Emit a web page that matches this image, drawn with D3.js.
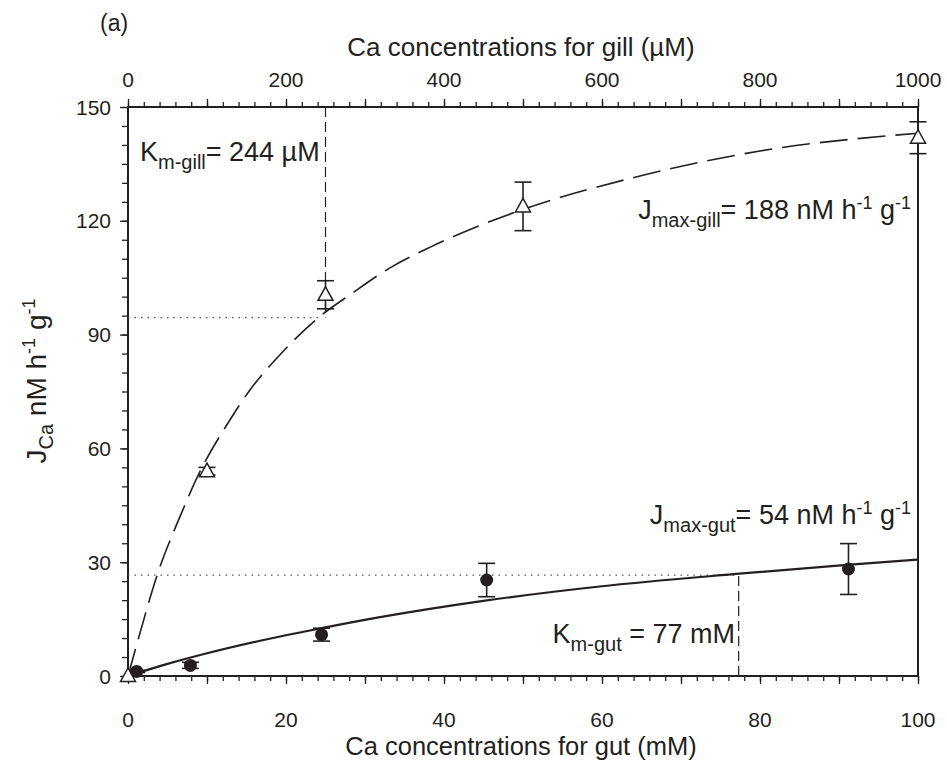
<!DOCTYPE html>
<html><head><meta charset="utf-8">
<script src="https://cdn.jsdelivr.net/npm/d3@7"></script>
<style>
body{margin:0;background:#fff}
text{font-family:"Liberation Sans",Arial,Helvetica,sans-serif;fill:#231f20}
</style>
</head><body>
<svg id="c" width="947" height="768"></svg>
<script>
// ---- data ----
const gillConc = [0, 100, 250, 500, 1000];           // µM (top axis)
const gillJ    = [0, 54, 100.5, 123.8, 141.9];
const gillErr  = [0, 1, 3.7, 6.4, 4.2];
const gutConc  = [1.1, 7.9, 24.5, 45.4, 91.2];       // mM (bottom axis)
const gutJ     = [1.2, 2.8, 10.9, 25.3, 28.2];
const gutErr   = [0.3, 0.8, 1.7, 4.4, 6.7];
const gillFitConc = [0, 8, 40.5, 65.8, 89, 129, 154.4, 192.4, 243, 281, 331.6, 382, 433, 500, 648, 800, 1000];
const gillFitJ    = [0, 6, 28.8, 42, 53, 67.5, 75.4, 84.7, 94.8, 100.5, 107.6, 113, 117.7, 123, 131.8, 138.4, 143.1];
const gutFitConc  = [0, 5, 10, 16.7, 24.5, 31.9, 45, 59.7, 77, 91, 100];
const gutFitJ     = [0, 3.2, 6.0, 9.3, 12.6, 15.5, 19.8, 23.6, 26.9, 29.3, 30.7];
const gutTicks  = [0, 20, 40, 60, 80, 100];
const gillTicks = [0, 200, 400, 600, 800, 1000];
const yTicks    = [0, 30, 60, 90, 120, 150];
const kmGill = {lineX: 250, halfJ: 94.5, dotEnd: 243};
const kmGut  = {lineX: 77.3, halfJ: 26.6};

const ink = "#231f20";
const svg = d3.select("#c");
const L = 128, R = 918, T = 107, B = 676;
const xGut  = d3.scaleLinear([0, 100], [L, R]);
const xGill = d3.scaleLinear([0, 1000], [L, R]);
const y     = d3.scaleLinear([0, 150], [B, T]);

// ---- axes ticks ----
function ticks(axis, tr) {
  const g = svg.append("g").attr("transform", tr).call(axis);
  g.select(".domain").remove();
  g.selectAll("line").attr("stroke", ink).attr("stroke-width", 1.3);
  g.selectAll("text").remove();
}
ticks(d3.axisBottom(xGut).tickValues(d3.range(0, 101, 2)).tickSize(5), `translate(0,${B})`);
ticks(d3.axisBottom(xGut).tickValues(d3.range(0, 101, 10)).tickSize(8), `translate(0,${B})`);
ticks(d3.axisTop(xGill).tickValues(d3.range(0, 1001, 20)).tickSize(5), `translate(0,${T})`);
ticks(d3.axisTop(xGill).tickValues(d3.range(0, 1001, 100)).tickSize(8), `translate(0,${T})`);
ticks(d3.axisLeft(y).tickValues(d3.range(0, 151, 5)).tickSize(6), `translate(${L},0)`);
ticks(d3.axisLeft(y).tickValues(d3.range(0, 151, 30)).tickSize(8), `translate(${L},0)`);

// frame
svg.append("rect").attr("x", L).attr("y", T).attr("width", R - L).attr("height", B - T)
  .attr("fill", "none").attr("stroke", ink).attr("stroke-width", 2);

// tick labels
svg.append("g").selectAll("text").data(gutTicks).join("text")
  .attr("x", d => xGut(d)).attr("y", 727).attr("text-anchor", "middle")
  .attr("font-size", 21).text(d => d);
svg.append("g").selectAll("text").data(gillTicks).join("text")
  .attr("x", d => xGill(d)).attr("y", 87).attr("text-anchor", "middle")
  .attr("font-size", 21).text(d => d);
svg.append("g").selectAll("text").data(yTicks).join("text")
  .attr("x", 111).attr("y", d => y(d)).attr("dy", "0.36em").attr("text-anchor", "end")
  .attr("font-size", 21).text(d => d);

// axis titles
svg.append("text").attr("x", (L + R) / 2 - 2).attr("y", 755).attr("text-anchor", "middle")
  .attr("font-size", 25.5).text("Ca concentrations for gut (mM)");
svg.append("text").attr("x", (L + R) / 2 - 2).attr("y", 56).attr("text-anchor", "middle")
  .attr("font-size", 26).text("Ca concentrations for gill (µM)");
svg.append("text").attr("x", 100).attr("y", 31).attr("font-size", 23).text("(a)");

const yt = svg.append("text").attr("transform", "translate(46,381) rotate(-90)")
  .attr("text-anchor", "middle").attr("font-size", 28);
yt.append("tspan").text("J");
yt.append("tspan").attr("font-size", 20).attr("dy", 7).text("Ca");
yt.append("tspan").attr("dy", -7).text(" nM h");
yt.append("tspan").attr("font-size", 18).attr("dy", -11).text("-1");
yt.append("tspan").attr("dy", 11).text(" g");
yt.append("tspan").attr("font-size", 18).attr("dy", -11).text("-1");

// reference (Km / Jmax/2) lines
svg.append("line").attr("x1", L).attr("x2", xGill(kmGill.dotEnd))
  .attr("y1", y(kmGill.halfJ)).attr("y2", y(kmGill.halfJ))
  .attr("stroke", "#555").attr("stroke-width", 1.2).attr("stroke-dasharray", "1.5,5");
svg.append("line").attr("x1", xGill(kmGill.lineX)).attr("x2", xGill(kmGill.lineX))
  .attr("y1", T).attr("y2", y(kmGill.halfJ))
  .attr("stroke", ink).attr("stroke-width", 1.2).attr("stroke-dasharray", "10,5");
svg.append("line").attr("x1", L).attr("x2", xGut(kmGut.lineX))
  .attr("y1", y(kmGut.halfJ)).attr("y2", y(kmGut.halfJ))
  .attr("stroke", "#555").attr("stroke-width", 1.2).attr("stroke-dasharray", "1.5,5");
svg.append("line").attr("x1", xGut(kmGut.lineX)).attr("x2", xGut(kmGut.lineX))
  .attr("y1", B).attr("y2", y(kmGut.halfJ))
  .attr("stroke", ink).attr("stroke-width", 1.2).attr("stroke-dasharray", "10,5");

// fitted curves
const gillLine = d3.line().x(d => xGill(d[0])).y(d => y(d[1])).curve(d3.curveMonotoneX);
const gutLine  = d3.line().x(d => xGut(d[0])).y(d => y(d[1])).curve(d3.curveMonotoneX);
svg.append("path").attr("d", gillLine(d3.zip(gillFitConc, gillFitJ)))
  .attr("fill", "none").attr("stroke", ink).attr("stroke-width", 1.6).attr("stroke-dasharray", "28,10");
svg.append("path").attr("d", gutLine(d3.zip(gutFitConc, gutFitJ)))
  .attr("fill", "none").attr("stroke", ink).attr("stroke-width", 2.2);

// error bars
function errBars(xs, ys, es, xs_) {
  const g = svg.append("g").attr("stroke", ink).attr("stroke-width", 1.6);
  xs.forEach((c, i) => {
    if (es[i] <= 0) return;
    const X = xs_(c), y1 = y(ys[i] - es[i]), y2 = y(ys[i] + es[i]);
    g.append("line").attr("x1", X).attr("x2", X).attr("y1", y1).attr("y2", y2);
    g.append("line").attr("x1", X - 8.5).attr("x2", X + 8.5).attr("y1", y1).attr("y2", y1);
    g.append("line").attr("x1", X - 8.5).attr("x2", X + 8.5).attr("y1", y2).attr("y2", y2);
  });
}
errBars(gillConc, gillJ, gillErr, xGill);
errBars(gutConc, gutJ, gutErr, xGut);

// markers
svg.append("g").selectAll("path").data(d3.zip(gillConc, gillJ)).join("path")
  .attr("transform", d => `translate(${xGill(d[0])},${y(d[1])})`)
  .attr("d", "M0,-8L7.5,5.5L-7.5,5.5Z").attr("fill", "#fff").attr("stroke", ink).attr("stroke-width", 1.5);
svg.append("g").selectAll("circle").data(d3.zip(gutConc, gutJ)).join("circle")
  .attr("cx", d => xGut(d[0])).attr("cy", d => y(d[1])).attr("r", 6.5).attr("fill", ink);

// annotations
function annot(x, yb, anchor, main, sub, rest) {
  const t = svg.append("text").attr("x", x).attr("y", yb).attr("text-anchor", anchor).attr("font-size", 27);
  t.append("tspan").text(main);
  t.append("tspan").attr("font-size", 20).attr("dy", 8).text(sub);
  let dy = -8;
  rest.forEach(r => {
    if (r.sup) { t.append("tspan").attr("font-size", 18).attr("dy", dy - 10).text(r.t); dy = 10; }
    else { t.append("tspan").attr("dy", dy).text(r.t); dy = 0; }
  });
}
annot(140, 161, "start", "K", "m-gill", [{t: "= 244 µM"}]);
annot(911, 219, "end", "J", "max-gill", [{t: "= 188 nM h"}, {t: "-1", sup: 1}, {t: " g"}, {t: "-1", sup: 1}]);
annot(911, 524, "end", "J", "max-gut", [{t: "= 54 nM h"}, {t: "-1", sup: 1}, {t: " g"}, {t: "-1", sup: 1}]);
annot(735, 643, "end", "K", "m-gut", [{t: " = 77 mM"}]);
</script>
</body></html>
